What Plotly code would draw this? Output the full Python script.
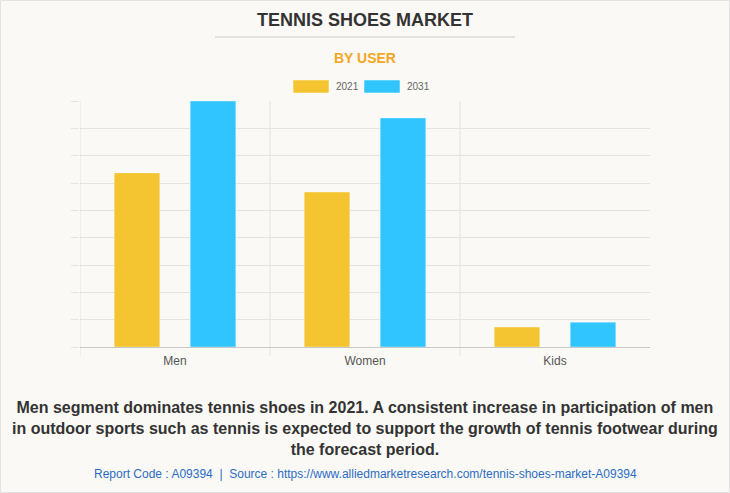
import plotly.graph_objects as go

categories = ["Men", "Women", "Kids"]
series_names = ["2021", "2031"]
values_2021 = [6.37, 5.67, 0.73]
values_2031 = [9.0, 8.38, 0.91]
colors = ["#F4C530", "#30C5FF"]

W, H = 730, 493
L, R, T, B = 80, 650, 101, 347

def px(x):
    return (x - L) / (R - L)

def py(y):
    return (B - y) / (B - T)

FONT = "Liberation Sans, Arial, sans-serif"
GRID = "#e4e3df"

fig = go.Figure()
for name, vals, col, off in [(series_names[0], values_2021, colors[0], -0.32),
                             (series_names[1], values_2031, colors[1], 0.08)]:
    fig.add_trace(go.Bar(
        x=list(range(len(categories))), y=vals, name=name,
        width=0.24, offset=off,
        marker=dict(color=col, line=dict(color="rgba(255,255,255,0.35)", width=1)),
        showlegend=False,
    ))

shapes = []
for xv in [-0.5, 0.5, 1.5]:
    shapes.append(dict(type="line", xref="x", yref="paper", x0=xv, x1=xv,
                       y0=py(356), y1=1, line=dict(color=GRID, width=1), layer="below"))
shapes.append(dict(type="line", xref="paper", yref="paper", x0=px(215), x1=px(515),
                   y0=py(37), y1=py(37), line=dict(color="#cccccc", width=1)))
shapes.append(dict(type="rect", xref="paper", yref="paper", x0=px(0.5), x1=px(729.5),
                   y0=py(492.5), y1=py(0.5), line=dict(color="#e2e2e2", width=1)))
for x0, col in [(293, colors[0]), (364, colors[1])]:
    shapes.append(dict(type="rect", xref="paper", yref="paper", x0=px(x0), x1=px(x0 + 36),
                       y0=py(93), y1=py(80), fillcolor=col,
                       line=dict(color="rgba(255,255,255,0.5)", width=1)))

annotations = [
    dict(text="<b>TENNIS SHOES MARKET</b>", x=px(365), y=py(20), xref="paper", yref="paper",
         showarrow=False, font=dict(family=FONT, size=18, color="#333333"), xanchor="center", yanchor="middle"),
    dict(text="<b>BY USER</b>", x=px(365), y=py(58), xref="paper", yref="paper",
         showarrow=False, font=dict(family=FONT, size=14, color="#F5A623"), xanchor="center", yanchor="middle"),
    dict(text=series_names[0], x=px(334), y=py(86.5), xref="paper", yref="paper",
         showarrow=False, font=dict(family=FONT, size=10, color="#666666"), xanchor="left", yanchor="middle"),
    dict(text=series_names[1], x=px(405), y=py(86.5), xref="paper", yref="paper",
         showarrow=False, font=dict(family=FONT, size=10, color="#666666"), xanchor="left", yanchor="middle"),
    dict(text="<b>Men segment dominates tennis shoes in 2021. A consistent increase in participation of men<br>"
              "in outdoor sports such as tennis is expected to support the growth of tennis footwear during<br>"
              "the forecast period.</b>",
         x=px(365), y=py(428), xref="paper", yref="paper", showarrow=False, align="center",
         font=dict(family=FONT, size=16, color="#333333"), xanchor="center", yanchor="middle"),
    dict(text="Report Code : A09394  |  Source : https://www.alliedmarketresearch.com/tennis-shoes-market-A09394",
         x=px(365), y=py(474), xref="paper", yref="paper", showarrow=False,
         font=dict(family=FONT, size=12, color="#2b6cc4"), xanchor="center", yanchor="middle"),
]

fig.update_layout(
    width=W, height=H,
    margin=dict(l=L, r=W - R, t=T, b=H - B, pad=0),
    paper_bgcolor="#FAF9F5", plot_bgcolor="#FAF9F5",
    barmode="overlay",
    shapes=shapes, annotations=annotations,
    showlegend=False,
    xaxis=dict(range=[-0.5, 2.5], tickvals=list(range(len(categories))), ticktext=categories,
               showgrid=False, zeroline=False, showline=True, linecolor="#c8c8c8", linewidth=1,
               ticks="", ticklabelstandoff=3,
               tickfont=dict(family=FONT, size=12, color="#555555"), fixedrange=True),
    yaxis=dict(range=[0, 9], dtick=1, showticklabels=False, showgrid=True, gridcolor=GRID,
               zeroline=False, ticks="outside", ticklen=8, tickcolor=GRID, showline=False,
               fixedrange=True),
)

fig.write_html("out.html", config={"displayModeBar": False},
               post_script="document.body.style.margin='0';document.body.style.padding='0';")
